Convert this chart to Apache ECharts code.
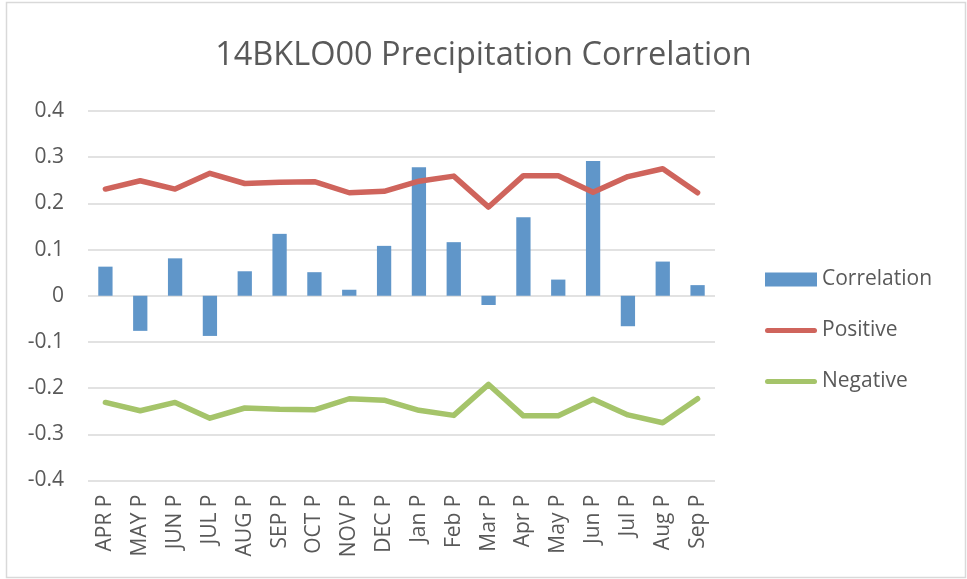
<!DOCTYPE html>
<html>
<head>
<meta charset="utf-8">
<script src="https://cdn.jsdelivr.net/npm/echarts@6/dist/echarts.min.js"></script>
<style>
html,body{margin:0;padding:0;background:#fff;}
#chart{width:967px;height:579px;}
</style>
</head>
<body>
<div id="chart"></div>
<script>
const categories = ['APR P','MAY P','JUN P','JUL P','AUG P','SEP P','OCT P','NOV P','DEC P','Jan P','Feb P','Mar P','Apr P','May P','Jun P','Jul P','Aug P','Sep P'];
const correlation = [0.063,-0.076,0.081,-0.087,0.053,0.134,0.051,0.013,0.108,0.278,0.116,-0.020,0.170,0.035,0.292,-0.066,0.074,0.023];
const positive = [0.231,0.249,0.231,0.265,0.243,0.246,0.247,0.223,0.226,0.248,0.259,0.192,0.260,0.260,0.224,0.258,0.275,0.223];
const negative = [-0.231,-0.249,-0.231,-0.265,-0.243,-0.246,-0.247,-0.223,-0.226,-0.248,-0.259,-0.192,-0.260,-0.260,-0.224,-0.258,-0.275,-0.223];
const yTicks = [-0.4,-0.3,-0.2,-0.1,0,0.1,0.2,0.3,0.4];

const FONT = '"Open Sans", sans-serif';
const TXT = '#595959';
const BLUE = '#6096C9', RED = '#CF645C', GREEN = '#A5C46A';
const LINE_ICON = 'path://M2.5,0 L49.5,0 A2.5,2.5 0 0 1 49.5,5 L2.5,5 A2.5,2.5 0 0 1 2.5,0 Z';
const chart = echarts.init(document.getElementById('chart'), null, {renderer:'canvas'});
chart.setOption({
  animation:false,
  backgroundColor:'#fff',
  graphic:[{type:'rect',shape:{x:6.5,y:2.5,width:959,height:575},style:{fill:'none',stroke:'#d9d9d9',lineWidth:1.5},silent:true,z:-1}],
  title:{text:'14BKLO00 Precipitation Correlation',left:'center',top:34,
    textStyle:{fontFamily:FONT,fontSize:32.5,fontWeight:'normal',color:TXT}},
  legend:{orient:'vertical',left:760,top:264,itemWidth:52,itemHeight:14,itemGap:30,symbolKeepAspect:true,
    textStyle:{fontFamily:FONT,fontSize:21,color:TXT},
    data:[
      {name:'Correlation',icon:'rect',itemStyle:{color:BLUE,borderWidth:0}},
      {name:'Positive',icon:LINE_ICON,itemStyle:{color:RED,borderWidth:0}},
      {name:'Negative',icon:LINE_ICON,itemStyle:{color:GREEN,borderWidth:0}}
    ]},
  grid:{left:88,right:252,top:111,bottom:98.5,containLabel:false},
  xAxis:{type:'category',data:categories,
    axisLine:{show:false,onZero:false},axisTick:{show:false},
    axisLabel:{rotate:90,fontFamily:FONT,fontSize:21,color:TXT,margin:14,interval:0},
    splitLine:{show:false}},
  yAxis:{type:'value',min:-0.4,max:0.4,interval:0.1,
    axisLine:{show:false},axisTick:{show:false},
    axisLabel:{fontFamily:FONT,fontSize:21,color:TXT,margin:24,
      formatter:v=>{const r=Math.round(v*10)/10; return yTicks.indexOf(r)>=0? String(r):'';}},
    splitLine:{lineStyle:{color:'#d9d9d9',width:1.5}}},
  series:[
    {name:'Correlation',type:'bar',data:correlation,barWidth:'41%',
      itemStyle:{color:BLUE}},
    {name:'Positive',type:'line',data:positive,symbol:'none',
      lineStyle:{color:RED,width:5.5,cap:'round',join:'round'},itemStyle:{color:RED}},
    {name:'Negative',type:'line',data:negative,symbol:'none',
      lineStyle:{color:GREEN,width:5.5,cap:'round',join:'round'},itemStyle:{color:GREEN}}
  ]
});
</script>
</body>
</html>
